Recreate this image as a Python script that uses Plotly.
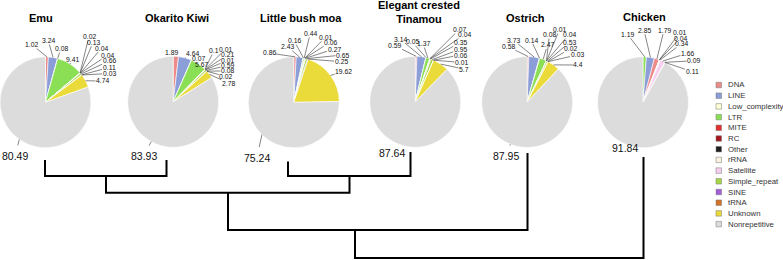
import math
import plotly.graph_objects as go

W, H = 783, 260

# ---------------- data ----------------
legend_categories = ["DNA", "LINE", "Low_complexity", "LTR", "MITE", "RC", "Other", "rRNA",
                     "Satellite", "Simple_repeat", "SINE", "tRNA", "Unknown", "Nonrepetitive"]

species_names = ["Emu", "Okarito Kiwi", "Little bush moa", "Elegant crested<br>Tinamou", "Ostrich", "Chicken"]

emu_cats = ["DNA", "LINE", "Low_complexity", "LTR", "RC", "Other", "rRNA", "Satellite",
            "Simple_repeat", "SINE", "tRNA", "Unknown", "Nonrepetitive"]
emu_vals = [1.02, 3.24, 0.08, 9.41, 0.02, 0.13, 0.04, 0.04, 0.66, 0.11, 0.03, 4.74, 80.49]

kiwi_cats = ["DNA", "LINE", "Low_complexity", "LTR", "RC", "Other", "rRNA", "Satellite",
             "Simple_repeat", "SINE", "tRNA", "Unknown", "Nonrepetitive"]
kiwi_vals = [1.89, 4.64, 0.07, 5.67, 0.1, 0.01, 0.21, 0.01, 0.59, 0.08, 0.02, 2.78, 83.93]

moa_cats = ["DNA", "LINE", "Low_complexity", "LTR", "Other", "rRNA", "Satellite",
            "Simple_repeat", "SINE", "Unknown", "Nonrepetitive"]
moa_vals = [0.86, 2.43, 0.16, 0.44, 0.01, 0.06, 0.27, 0.65, 0.25, 19.62, 75.24]

tinamou_cats = ["DNA", "LINE", "Low_complexity", "LTR", "RC", "Other", "Satellite",
                "Simple_repeat", "SINE", "tRNA", "Unknown", "Nonrepetitive"]
tinamou_vals = [0.59, 3.14, 0.05, 1.37, 0.07, 0.04, 0.35, 0.95, 0.06, 0.01, 5.7, 87.64]

ostrich_cats = ["DNA", "LINE", "Low_complexity", "LTR", "RC", "Other", "Satellite",
                "Simple_repeat", "SINE", "tRNA", "Unknown", "Nonrepetitive"]
ostrich_vals = [0.58, 3.73, 0.14, 2.47, 0.08, 0.01, 0.04, 0.53, 0.02, 0.03, 4.4, 87.95]

chicken_cats = ["LTR", "LINE", "DNA", "RC", "Other", "rRNA", "Satellite", "SINE", "tRNA", "Nonrepetitive"]
chicken_vals = [1.19, 2.85, 1.79, 0.01, 0.04, 0.34, 1.66, 0.09, 0.11, 91.84]

# dendrogram: leaves in species order, internal nodes 6..9
tree_merges = [(0, 1, 176), (2, 3, 176), (6, 7, 192.7), (8, 4, 230), (9, 5, 258)]

# ---------------- styles / layout ----------------
colors = {
    "DNA": "#EC8A8A", "LINE": "#8C9ED8", "Low_complexity": "#FFFFD4", "LTR": "#8ADF55",
    "MITE": "#E3302F", "RC": "#A3161E", "Other": "#1E1E1E", "rRNA": "#FBF1E1",
    "Satellite": "#F6CFF0", "Simple_repeat": "#A6D845", "SINE": "#A25DD6", "tRNA": "#D4722A",
    "Unknown": "#EADA3A", "Nonrepetitive": "#DCDCDC",
}

pie_centers = [(45.5, 102.3), (173.2, 101.8), (293.8, 102.3), (415.3, 101.8), (527.2, 102), (643, 102.3)]
R = 45.5
title_pos = [(40.8, 18.3), (176.7, 18.5), (300.8, 18.5), (419, 12), (525, 18.5), (644.2, 17.5)]

label_pos = [
    [(31.7, 44.5), (48.3, 40.5), (61, 48.5), (72.7, 59), (89, 36.3), (93, 42.3), (101.5, 48),
     (107.5, 55.3), (109, 61), (109, 67.5), (109, 73.5), (102.5, 81), (15, 155.7)],
    [(171, 52.5), (192.5, 53.8), (198.3, 58.7), (201.7, 64.7), (214, 50.5), (225, 49.5), (227.5, 55),
     (227.5, 60.3), (227.5, 65.6), (227.5, 70.9), (225.8, 76.5), (228.3, 83), (144, 155.8)],
    [(269, 53), (287.5, 46.7), (294, 40.5), (310.3, 33.3), (325.5, 37.2), (330, 42.3), (334, 49),
     (342.5, 55), (341, 61.7), (343.7, 71.7), (257, 157.5)],
    [(395, 45.8), (400, 39), (412, 41.8), (423, 43.5), (459.2, 29.5), (464, 34.5), (460.2, 42.5),
     (460.2, 49.3), (460.2, 55), (461.5, 62.5), (464, 69), (391.7, 153.3)],
    [(508.3, 46.7), (513.3, 40), (531, 40), (547.5, 45), (549.5, 34.5), (559.5, 29.5), (569, 34.5),
     (569.5, 42.3), (570.8, 48.3), (577, 55), (578.3, 65), (505.8, 155.8)],
    [(627.5, 34.2), (644, 30.2), (664, 30.2), (679.7, 32.8), (680.5, 38), (681.7, 43.5),
     (687.5, 53.2), (693.7, 60.8), (692, 71.5), (625, 147.5)],
]

tree_leaf_x = [45, 166.5, 288, 410.5, 527.5, 643.5]
tree_leaf_top = [160, 160, 161.5, 152, 153, 157]
tree_internal_x = [106, 349.5, 228, 355, 500]

FONT = "Liberation Sans, Arial, Helvetica, sans-serif"

pies = [(emu_cats, emu_vals), (kiwi_cats, kiwi_vals), (moa_cats, moa_vals),
        (tinamou_cats, tinamou_vals), (ostrich_cats, ostrich_vals), (chicken_cats, chicken_vals)]

fig = go.Figure()
annotations = []
shapes = []


def px2paper(x, y):
    return x / W, 1 - y / H


def clamp(v):
    return min(1.0, max(0.0, v))


for k, (cats, vals) in enumerate(pies):
    cx, cy = pie_centers[k]
    x0, y1 = px2paper(cx - R, cy - R)
    x1, y0 = px2paper(cx + R, cy + R)
    fig.add_trace(go.Pie(
        labels=cats, values=vals, sort=False, direction="clockwise", rotation=0,
        marker=dict(colors=[colors[c] for c in cats], line=dict(color="white", width=0.6)),
        textinfo="none", hoverinfo="label+value", showlegend=False,
        domain=dict(x=[clamp(x0), clamp(x1)], y=[clamp(y0), clamp(y1)]),
        name=species_names[k].replace("<br>", " "),
    ))
    total = sum(vals)
    cum = 0.0
    for i, v in enumerate(vals):
        theta = 2 * math.pi * (cum + v / 2) / total
        cum += v
        hx = cx + R * math.sin(theta)
        hy = cy - R * math.cos(theta)
        tx, ty = label_pos[k][i]
        big = cats[i] == "Nonrepetitive"
        ax_, ay_ = px2paper(hx, hy)
        annotations.append(dict(
            x=ax_, y=ay_, xref="paper", yref="paper", text=("%g" % v),
            showarrow=True, arrowhead=0, arrowwidth=0.6, arrowcolor="#333",
            ax=tx - hx, ay=ty - hy, axref="pixel", ayref="pixel",
            startstandoff=4 if big else 0, standoff=0,
            font=dict(family=FONT, size=10.5 if big else 6.8, color="#111"),
            borderpad=0,
        ))
    tx, ty = title_pos[k]
    px_, py_ = px2paper(tx, ty)
    annotations.append(dict(
        x=px_, y=py_, xref="paper", yref="paper", showarrow=False,
        text="<b>" + species_names[k] + "</b>", xanchor="center", yanchor="middle",
        font=dict(family=FONT, size=11, color="#000"),
    ))

# dendrogram
node_x = list(tree_leaf_x) + list(tree_internal_x)
node_top = list(tree_leaf_top) + [m[2] for m in tree_merges]
tx_list, ty_list = [], []
for (a, b, h) in tree_merges:
    tx_list += [node_x[a], node_x[a], node_x[b], node_x[b], None]
    ty_list += [node_top[a], h, h, node_top[b], None]
fig.add_trace(go.Scatter(x=tx_list, y=ty_list, mode="lines", line=dict(color="black", width=2),
                         hoverinfo="skip", showlegend=False))

# legend
for i, c in enumerate(legend_categories):
    yc = 85 + i * 10.7
    shapes.append(dict(type="rect", xref="paper", yref="paper",
                       x0=716 / W, x1=721.5 / W, y0=1 - (yc + 2.75) / H, y1=1 - (yc - 2.75) / H,
                       fillcolor=colors[c], line=dict(color="#777", width=0.5)))
    lx, ly = px2paper(725.5, yc)
    annotations.append(dict(x=lx, y=ly, xref="paper", yref="paper", showarrow=False, text=c,
                            xanchor="left", yanchor="middle",
                            font=dict(family=FONT, size=7.8, color="#333")))

fig.update_layout(
    width=W, height=H, autosize=False,
    margin=dict(l=0, r=0, t=0, b=0, pad=0),
    paper_bgcolor="white", plot_bgcolor="white",
    xaxis=dict(range=[0, W], visible=False, fixedrange=True),
    yaxis=dict(range=[H, 0], visible=False, fixedrange=True),
    annotations=annotations, shapes=shapes, showlegend=False,
)

fig.write_html("out.html", config={"displayModeBar": False},
               post_script="document.body.style.margin='0';document.body.style.overflow='hidden';")
